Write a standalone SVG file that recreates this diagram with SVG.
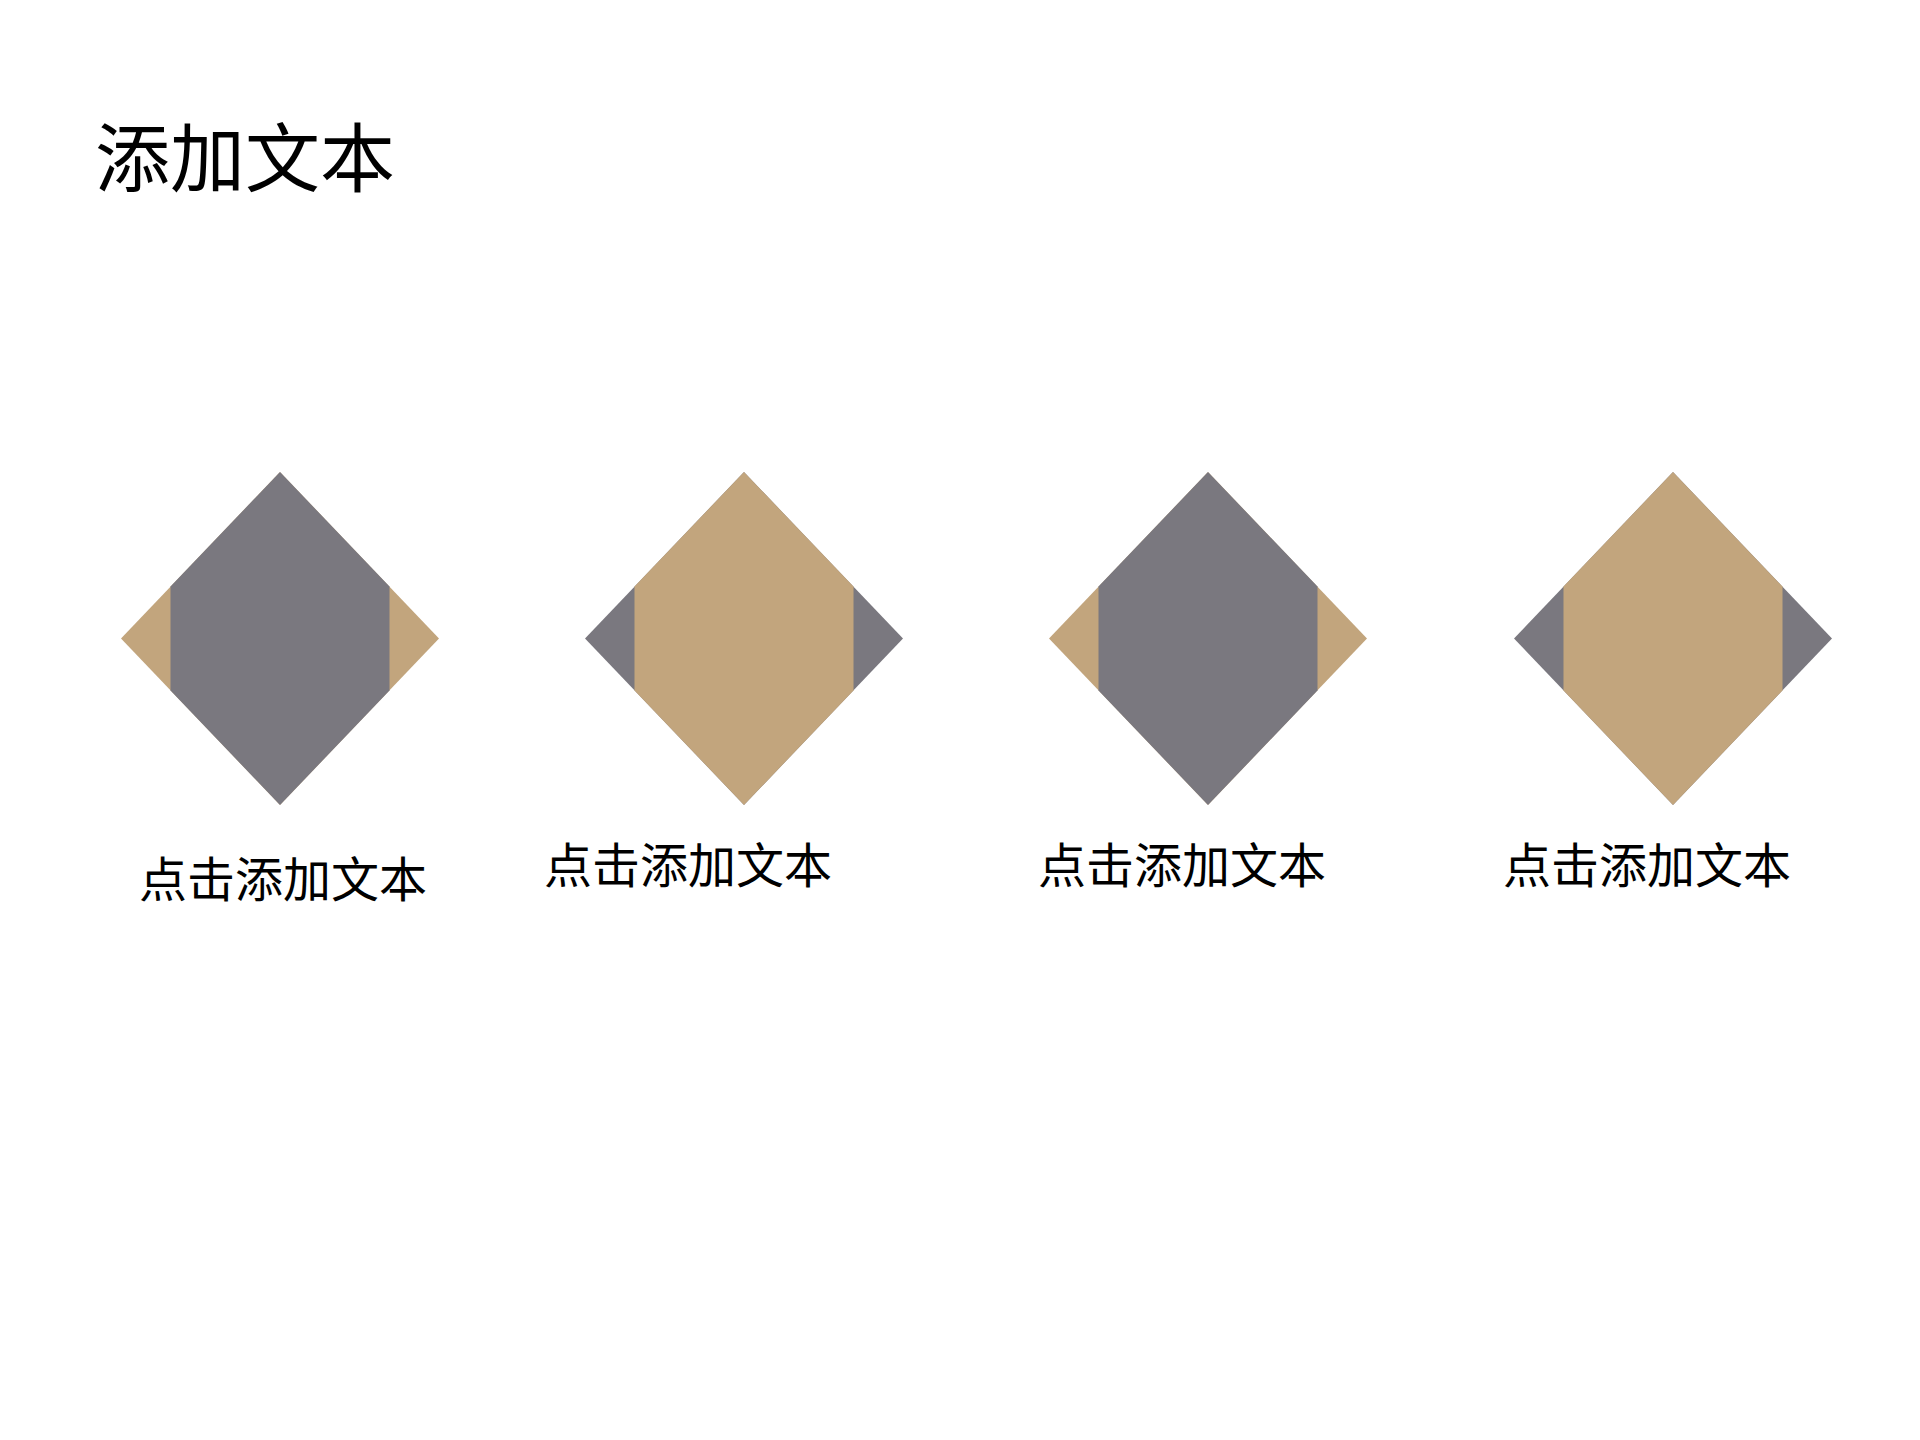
<svg xmlns="http://www.w3.org/2000/svg" width="1920" height="1440" viewBox="0 0 1920 1440">
<style>
.gray{fill:#7A787F}
.tan{fill:#C2A57D}
.t{font-family:"Microsoft YaHei","Noto Sans CJK SC","Noto Sans",sans-serif;fill:#000}
.title{font-size:75px}
.lbl{font-size:48px}
</style>
<defs>
<polygon id="dia" points="0,-166.5 159,0 0,166.5 -159,0"/>
<polygon id="mid" points="0,-166.5 109.5,-52 109.5,52 0,166.5 -109.5,52 -109.5,-52"/>
</defs>
<rect width="1920" height="1440" fill="#fff"/>
<text id="title" class="t title" x="95" y="186">添加文本</text>
<g id="node1" transform="translate(280,638.5)">
<use href="#dia" class="tan"/>
<use href="#mid" class="gray"/>
</g>
<g id="node2" transform="translate(744,638.5)">
<use href="#dia" class="gray"/>
<use href="#mid" class="tan"/>
</g>
<g id="node3" transform="translate(1208,638.5)">
<use href="#dia" class="tan"/>
<use href="#mid" class="gray"/>
</g>
<g id="node4" transform="translate(1673,638.5)">
<use href="#dia" class="gray"/>
<use href="#mid" class="tan"/>
</g>
<g id="labels">
<text id="label1" class="t lbl" x="139" y="897">点击添加文本</text>
<text id="label2" class="t lbl" x="544" y="883">点击添加文本</text>
<text id="label3" class="t lbl" x="1038" y="883">点击添加文本</text>
<text id="label4" class="t lbl" x="1503" y="883">点击添加文本</text>
</g>
<g id="connectors"/>
</svg>
